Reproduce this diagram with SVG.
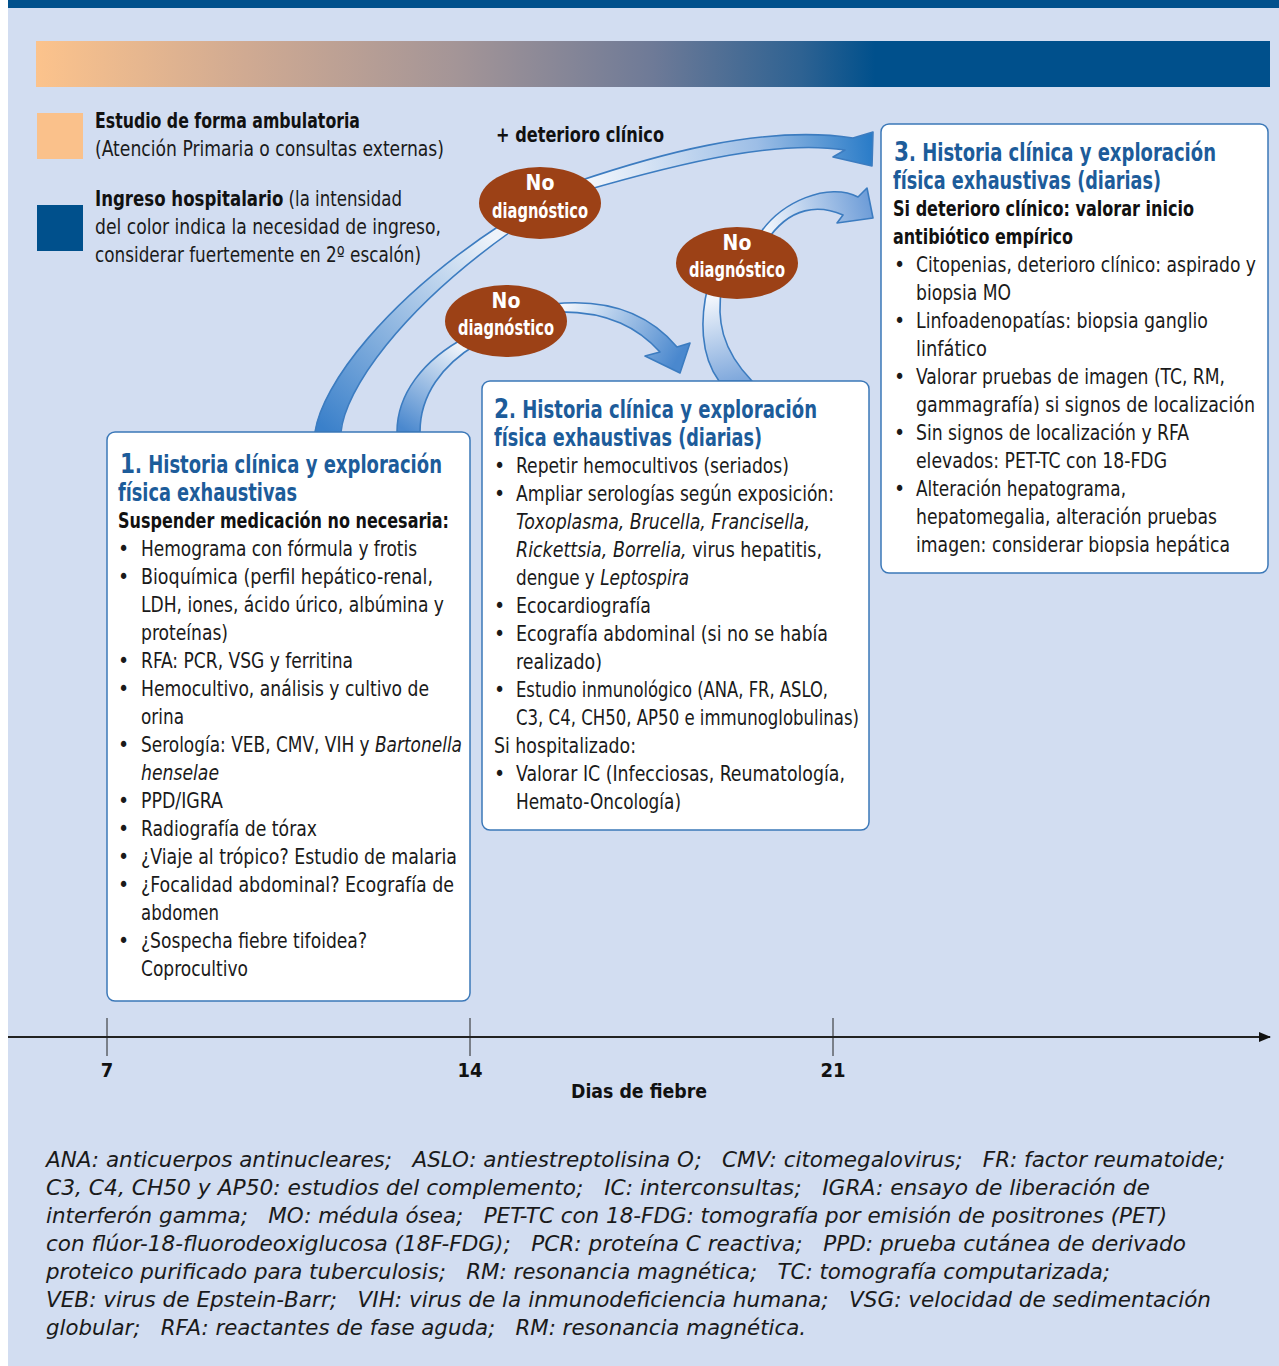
<svg xmlns="http://www.w3.org/2000/svg" width="1279" height="1366" viewBox="0 0 1279 1366">
<style>
.b{font-family:'Liberation Sans Narrow','DejaVu Sans Condensed','Liberation Sans',sans-serif;font-size:21px;fill:#1a1a1a}
.bb{font-family:'Liberation Sans Narrow','DejaVu Sans Condensed','Liberation Sans',sans-serif;font-size:21px;font-weight:bold;fill:#111}
.t{font-family:'Liberation Sans Narrow','DejaVu Sans Condensed','Liberation Sans',sans-serif;font-size:25px;font-weight:bold;fill:#1D5C9A}
.num{font-family:'DejaVu Sans',sans-serif;font-size:27px;font-weight:bold;fill:#1D5C9A}
.ov{font-family:'Liberation Sans Narrow','DejaVu Sans Condensed','Liberation Sans',sans-serif;font-size:21px;font-weight:bold;fill:#fff;text-anchor:middle}
.ax{font-family:'DejaVu Sans Condensed','Liberation Sans Narrow','Liberation Sans',sans-serif;font-size:20px;font-weight:bold;fill:#111;text-anchor:middle}
.fn{font-family:'Liberation Sans Narrow','DejaVu Sans Condensed','Liberation Sans',sans-serif;font-size:21px;font-style:italic;fill:#1a1a1a}
.i{font-style:italic}
.box{fill:#fff;stroke:#3B78B8;stroke-width:1.5}
.oval{fill:#9C4116}
.arr{stroke:#3C7CC0;stroke-width:1.6;stroke-linejoin:round}
</style>
<defs>
<linearGradient id="bar" x1="36" y1="0" x2="1270" y2="0" gradientUnits="userSpaceOnUse">
<stop offset="0" stop-color="#FCC38C"/>
<stop offset="0.17" stop-color="#D0AA92"/>
<stop offset="0.34" stop-color="#A49597"/>
<stop offset="0.5" stop-color="#6E7A97"/>
<stop offset="0.62" stop-color="#2E6292"/>
<stop offset="0.68" stop-color="#00508C"/>
<stop offset="1" stop-color="#00508C"/>
</linearGradient>
<linearGradient id="gA1" x1="328" y1="432" x2="492" y2="236" gradientUnits="userSpaceOnUse">
<stop offset="0" stop-color="#3A80CA"/><stop offset="1" stop-color="#EEF3FA"/>
</linearGradient>
<linearGradient id="gA2" x1="590" y1="185" x2="872" y2="150" gradientUnits="userSpaceOnUse">
<stop offset="0" stop-color="#F2F6FC"/><stop offset="0.6" stop-color="#9DBEE6"/><stop offset="1" stop-color="#2A7CC8"/>
</linearGradient>
<linearGradient id="gB1" x1="408" y1="432" x2="462" y2="348" gradientUnits="userSpaceOnUse">
<stop offset="0" stop-color="#4A88CE"/><stop offset="1" stop-color="#EEF3FA"/>
</linearGradient>
<linearGradient id="gB2" x1="565" y1="305" x2="672" y2="368" gradientUnits="userSpaceOnUse">
<stop offset="0" stop-color="#F2F6FC"/><stop offset="1" stop-color="#4A88CE"/>
</linearGradient>
<linearGradient id="gC1" x1="735" y1="381" x2="714" y2="297" gradientUnits="userSpaceOnUse">
<stop offset="0" stop-color="#7FA8DC"/><stop offset="1" stop-color="#F2F6FC"/>
</linearGradient>
<linearGradient id="gC2" x1="766" y1="231" x2="870" y2="205" gradientUnits="userSpaceOnUse">
<stop offset="0" stop-color="#F2F6FC"/><stop offset="1" stop-color="#6E9DD8"/>
</linearGradient>
<marker id="axh" markerWidth="12" markerHeight="10" refX="11" refY="5" orient="auto" markerUnits="userSpaceOnUse">
<path d="M0,0 L12,5 L0,10 Z" fill="#111"/>
</marker>
</defs>

<!-- background -->
<rect x="0" y="0" width="1279" height="1366" fill="#fff"/>
<rect x="8" y="0" width="1271" height="1366" fill="#D2DDF1"/>
<rect x="8" y="0" width="1271" height="8" fill="#00508C"/>
<rect x="36" y="41" width="1234" height="46" fill="url(#bar)"/>

<!-- legend -->
<g id="legend">
<rect x="37" y="113" width="46" height="46" fill="#FAC18B"/>
<rect x="37" y="205" width="46" height="46" fill="#00508C"/>
<text class="bb" x="95" y="128" textLength="265" lengthAdjust="spacingAndGlyphs">Estudio de forma ambulatoria</text>
<text class="b" x="95" y="156" textLength="349" lengthAdjust="spacingAndGlyphs">(Atención Primaria o consultas externas)</text>
<text class="b" x="95" y="206" textLength="307" lengthAdjust="spacingAndGlyphs"><tspan font-weight="bold" fill="#111">Ingreso hospitalario</tspan> (la intensidad</text>
<text class="b" x="95" y="234" textLength="346" lengthAdjust="spacingAndGlyphs">del color indica la necesidad de ingreso,</text>
<text class="b" x="95" y="262" textLength="326" lengthAdjust="spacingAndGlyphs">considerar fuertemente en 2º escalón)</text>
<text class="bb" x="496" y="142" textLength="168" lengthAdjust="spacingAndGlyphs">+ deterioro clínico</text>
</g>

<!-- connectors -->
<g id="connectors">
<path class="arr" fill="url(#gA1)" d="M315,432 C322,385 385,300 505,222 L513,230 C400,310 345,390 341,432 Z"/>
<path class="arr" fill="url(#gA2)" d="M576,182 C650,157 760,124 853,138 L873,132 L872,166 L833,157 L845,150 C780,140 690,160 580,192 Z"/>
<path class="arr" fill="url(#gB1)" d="M397,432 C397,395 422,360 468,336 L477,344 C442,365 420,395 420,432 Z"/>
<path class="arr" fill="url(#gB2)" d="M553,304 C610,298 650,315 677,347 L690,343 L680,373 L645,356 L660,352 C640,330 610,310 553,312 Z"/>
<path class="arr" fill="url(#gC1)" d="M719,381 C700,355 700,318 708,286 L722,286 C716,320 722,350 752,381 Z"/>
<path class="arr" fill="url(#gC2)" d="M757,238 C780,200 830,182 858,197 L867,188 L873,218 L837,223 L843,215 C820,205 790,205 766,242 Z"/>
</g>

<!-- ovals -->
<g id="oval1">
<ellipse class="oval" cx="540" cy="203" rx="61" ry="36"/>
<text class="ov" x="540" y="190">No</text>
<text class="ov" x="540" y="218" textLength="96" lengthAdjust="spacingAndGlyphs">diagnóstico</text>
</g>
<g id="oval2">
<ellipse class="oval" cx="506" cy="321" rx="61" ry="36"/>
<text class="ov" x="506" y="308">No</text>
<text class="ov" x="506" y="335" textLength="96" lengthAdjust="spacingAndGlyphs">diagnóstico</text>
</g>
<g id="oval3">
<ellipse class="oval" cx="737" cy="263" rx="61" ry="36"/>
<text class="ov" x="737" y="250">No</text>
<text class="ov" x="737" y="277" textLength="96" lengthAdjust="spacingAndGlyphs">diagnóstico</text>
</g>

<!-- box 1 -->
<g id="box1">
<rect class="box" x="107" y="432" width="363" height="569" rx="8"/>
<text class="t" x="120" y="473" textLength="322" lengthAdjust="spacingAndGlyphs"><tspan class="num">1</tspan>. Historia clínica y exploración</text>
<text class="t" x="118" y="501" textLength="179" lengthAdjust="spacingAndGlyphs">física exhaustivas</text>
<text class="bb" x="118" y="528" textLength="331" lengthAdjust="spacingAndGlyphs">Suspender medicación no necesaria:</text>
<g class="b">
<text x="118" y="556">•</text><text x="141" y="556" textLength="276" lengthAdjust="spacingAndGlyphs">Hemograma con fórmula y frotis</text>
<text x="118" y="584">•</text><text x="141" y="584" textLength="292" lengthAdjust="spacingAndGlyphs">Bioquímica (perfil hepático-renal,</text>
<text x="141" y="612" textLength="303" lengthAdjust="spacingAndGlyphs">LDH, iones, ácido úrico, albúmina y</text>
<text x="141" y="640" textLength="87" lengthAdjust="spacingAndGlyphs">proteínas)</text>
<text x="118" y="668">•</text><text x="141" y="668" textLength="212" lengthAdjust="spacingAndGlyphs">RFA: PCR, VSG y ferritina</text>
<text x="118" y="696">•</text><text x="141" y="696" textLength="288" lengthAdjust="spacingAndGlyphs">Hemocultivo, análisis y cultivo de</text>
<text x="141" y="724" textLength="43" lengthAdjust="spacingAndGlyphs">orina</text>
<text x="118" y="752">•</text><text x="141" y="752" textLength="321" lengthAdjust="spacingAndGlyphs">Serología: VEB, CMV, VIH y <tspan class="i">Bartonella</tspan></text>
<text x="141" y="780" class="i" textLength="78" lengthAdjust="spacingAndGlyphs">henselae</text>
<text x="118" y="808">•</text><text x="141" y="808" textLength="82" lengthAdjust="spacingAndGlyphs">PPD/IGRA</text>
<text x="118" y="836">•</text><text x="141" y="836" textLength="176" lengthAdjust="spacingAndGlyphs">Radiografía de tórax</text>
<text x="118" y="864">•</text><text x="141" y="864" textLength="316" lengthAdjust="spacingAndGlyphs">¿Viaje al trópico? Estudio de malaria</text>
<text x="118" y="892">•</text><text x="141" y="892" textLength="313" lengthAdjust="spacingAndGlyphs">¿Focalidad abdominal? Ecografía de</text>
<text x="141" y="920" textLength="78" lengthAdjust="spacingAndGlyphs">abdomen</text>
<text x="118" y="948">•</text><text x="141" y="948" textLength="226" lengthAdjust="spacingAndGlyphs">¿Sospecha fiebre tifoidea?</text>
<text x="141" y="976" textLength="107" lengthAdjust="spacingAndGlyphs">Coprocultivo</text>
</g>
</g>

<!-- box 2 -->
<g id="box2">
<rect class="box" x="482" y="381" width="387" height="449" rx="8"/>
<text class="t" x="494" y="418" textLength="323" lengthAdjust="spacingAndGlyphs"><tspan class="num">2</tspan>. Historia clínica y exploración</text>
<text class="t" x="494" y="446" textLength="268" lengthAdjust="spacingAndGlyphs">física exhaustivas (diarias)</text>
<g class="b">
<text x="494" y="473">•</text><text x="516" y="473" textLength="273" lengthAdjust="spacingAndGlyphs">Repetir hemocultivos (seriados)</text>
<text x="494" y="501">•</text><text x="516" y="501" textLength="318" lengthAdjust="spacingAndGlyphs">Ampliar serologías según exposición:</text>
<text x="516" y="529" class="i" textLength="294" lengthAdjust="spacingAndGlyphs">Toxoplasma, Brucella, Francisella,</text>
<text x="516" y="557" textLength="306" lengthAdjust="spacingAndGlyphs"><tspan class="i">Rickettsia, Borrelia,</tspan> virus hepatitis,</text>
<text x="516" y="585" textLength="173" lengthAdjust="spacingAndGlyphs">dengue y <tspan class="i">Leptospira</tspan></text>
<text x="494" y="613">•</text><text x="516" y="613" textLength="135" lengthAdjust="spacingAndGlyphs">Ecocardiografía</text>
<text x="494" y="641">•</text><text x="516" y="641" textLength="312" lengthAdjust="spacingAndGlyphs">Ecografía abdominal (si no se había</text>
<text x="516" y="669" textLength="86" lengthAdjust="spacingAndGlyphs">realizado)</text>
<text x="494" y="697">•</text><text x="516" y="697" textLength="312" lengthAdjust="spacingAndGlyphs">Estudio inmunológico (ANA, FR, ASLO,</text>
<text x="516" y="725" textLength="343" lengthAdjust="spacingAndGlyphs">C3, C4, CH50, AP50 e immunoglobulinas)</text>
<text x="494" y="753" textLength="142" lengthAdjust="spacingAndGlyphs">Si hospitalizado:</text>
<text x="494" y="781">•</text><text x="516" y="781" textLength="329" lengthAdjust="spacingAndGlyphs">Valorar IC (Infecciosas, Reumatología,</text>
<text x="516" y="809" textLength="165" lengthAdjust="spacingAndGlyphs">Hemato-Oncología)</text>
</g>
</g>

<!-- box 3 -->
<g id="box3">
<rect class="box" x="881" y="124" width="387" height="449" rx="8"/>
<text class="t" x="894" y="161" textLength="322" lengthAdjust="spacingAndGlyphs"><tspan class="num">3</tspan>. Historia clínica y exploración</text>
<text class="t" x="893" y="189" textLength="268" lengthAdjust="spacingAndGlyphs">física exhaustivas (diarias)</text>
<text class="bb" x="893" y="216" textLength="301" lengthAdjust="spacingAndGlyphs">Si deterioro clínico: valorar inicio</text>
<text class="bb" x="893" y="244" textLength="180" lengthAdjust="spacingAndGlyphs">antibiótico empírico</text>
<g class="b">
<text x="894" y="272">•</text><text x="916" y="272" textLength="340" lengthAdjust="spacingAndGlyphs">Citopenias, deterioro clínico: aspirado y</text>
<text x="916" y="300" textLength="95" lengthAdjust="spacingAndGlyphs">biopsia MO</text>
<text x="894" y="328">•</text><text x="916" y="328" textLength="292" lengthAdjust="spacingAndGlyphs">Linfoadenopatías: biopsia ganglio</text>
<text x="916" y="356" textLength="71" lengthAdjust="spacingAndGlyphs">linfático</text>
<text x="894" y="384">•</text><text x="916" y="384" textLength="309" lengthAdjust="spacingAndGlyphs">Valorar pruebas de imagen (TC, RM,</text>
<text x="916" y="412" textLength="339" lengthAdjust="spacingAndGlyphs">gammagrafía) si signos de localización</text>
<text x="894" y="440">•</text><text x="916" y="440" textLength="273" lengthAdjust="spacingAndGlyphs">Sin signos de localización y RFA</text>
<text x="916" y="468" textLength="251" lengthAdjust="spacingAndGlyphs">elevados: PET-TC con 18-FDG</text>
<text x="894" y="496">•</text><text x="916" y="496" textLength="210" lengthAdjust="spacingAndGlyphs">Alteración hepatograma,</text>
<text x="916" y="524" textLength="301" lengthAdjust="spacingAndGlyphs">hepatomegalia, alteración pruebas</text>
<text x="916" y="552" textLength="314" lengthAdjust="spacingAndGlyphs">imagen: considerar biopsia hepática</text>
</g>
</g>

<!-- timeline -->
<g id="timeline">
<line x1="8" y1="1037" x2="1270" y2="1037" stroke="#222" stroke-width="2" marker-end="url(#axh)"/>
<line x1="107" y1="1018" x2="107" y2="1056" stroke="#222" stroke-width="1"/>
<line x1="470" y1="1018" x2="470" y2="1056" stroke="#222" stroke-width="1"/>
<line x1="833" y1="1018" x2="833" y2="1056" stroke="#222" stroke-width="1"/>
<text class="ax" x="107" y="1077">7</text>
<text class="ax" x="470" y="1077">14</text>
<text class="ax" x="833" y="1077">21</text>
<text class="ax" x="639" y="1098" textLength="136" lengthAdjust="spacingAndGlyphs">Dias de fiebre</text>
</g>

<!-- footnote -->
<g id="footnote" class="fn">
<text x="46" y="1167" textLength="1179" lengthAdjust="spacingAndGlyphs">ANA: anticuerpos antinucleares;&#160;&#160; ASLO: antiestreptolisina O;&#160;&#160; CMV: citomegalovirus;&#160;&#160; FR: factor reumatoide;</text>
<text x="46" y="1195" textLength="1104" lengthAdjust="spacingAndGlyphs">C3, C4, CH50 y AP50: estudios del complemento;&#160;&#160; IC: interconsultas;&#160;&#160; IGRA: ensayo de liberación de</text>
<text x="46" y="1223" textLength="1121" lengthAdjust="spacingAndGlyphs">interferón gamma;&#160;&#160; MO: médula ósea;&#160;&#160; PET-TC con 18-FDG: tomografía por emisión de positrones (PET)</text>
<text x="46" y="1251" textLength="1140" lengthAdjust="spacingAndGlyphs">con flúor-18-fluorodeoxiglucosa (18F-FDG);&#160;&#160; PCR: proteína C reactiva;&#160;&#160; PPD: prueba cutánea de derivado</text>
<text x="46" y="1279" textLength="1064" lengthAdjust="spacingAndGlyphs">proteico purificado para tuberculosis;&#160;&#160; RM: resonancia magnética;&#160;&#160; TC: tomografía computarizada;</text>
<text x="46" y="1307" textLength="1165" lengthAdjust="spacingAndGlyphs">VEB: virus de Epstein-Barr;&#160;&#160; VIH: virus de la inmunodeficiencia humana;&#160;&#160; VSG: velocidad de sedimentación</text>
<text x="46" y="1335" textLength="760" lengthAdjust="spacingAndGlyphs">globular;&#160;&#160; RFA: reactantes de fase aguda;&#160;&#160; RM: resonancia magnética.</text>
</g>
</svg>
